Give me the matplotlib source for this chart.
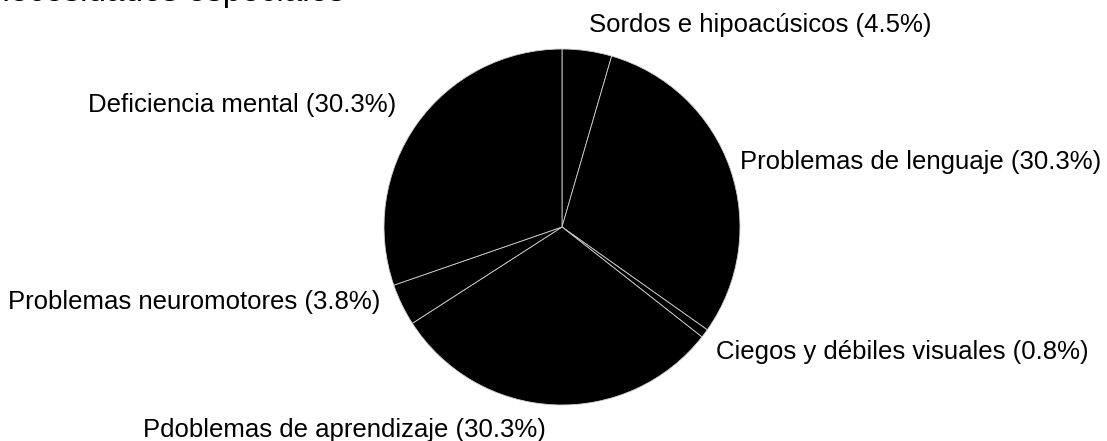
import matplotlib
matplotlib.use("Agg")
import matplotlib.pyplot as plt

plt.rcParams['font.family'] = ['Liberation Sans', 'DejaVu Sans']

labels = ["Sordos e hipoacúsicos", "Problemas de lenguaje",
          "Ciegos y débiles visuales", "Pdoblemas de aprendizaje",
          "Problemas neuromotores", "Deficiencia mental"]
values = [4.5, 30.3, 0.8, 30.3, 3.8, 30.3]
title = "Alumnos con necesidades especiales"

# label placement (in pie radius units) and alignment
lbl_pos = [(0.15, 1.135), (1.0, 0.365), (0.865, -0.70),
           (-1.22, -1.14), (-1.022, -0.42), (-0.933, 0.685)]
lbl_ha = ['left', 'left', 'left', 'center', 'right', 'right']

W, H = 1107, 441
cx, cy, R = 562, 227, 178

fig = plt.figure(figsize=(W / 100, H / 100), dpi=100)
ax = fig.add_axes([(cx - R) / W, (H - cy - R) / H, 2 * R / W, 2 * R / H])

wedges, texts = ax.pie(values, startangle=90, counterclock=False,
                       colors=['black'] * len(values),
                       wedgeprops=dict(edgecolor='#d0d0d0', linewidth=0.6),
                       labels=[f"{l} ({v}%)" for l, v in zip(labels, values)],
                       textprops=dict(fontsize=18.5, color='black'))
for t, p, ha in zip(texts, lbl_pos, lbl_ha):
    t.set_position(p)
    t.set_ha(ha)
    t.set_va('center')
    t.set_clip_on(False)

ax.set_xlim(-1, 1)
ax.set_ylim(-1, 1)
ax.set_aspect('equal')
ax.axis('off')

# title sits mostly above the top edge, as in the reference
fig.text(345 / W, 1 - 0.5 / H, title, ha='right', va='baseline', fontsize=24)

fig.savefig("out.png", dpi=100)
